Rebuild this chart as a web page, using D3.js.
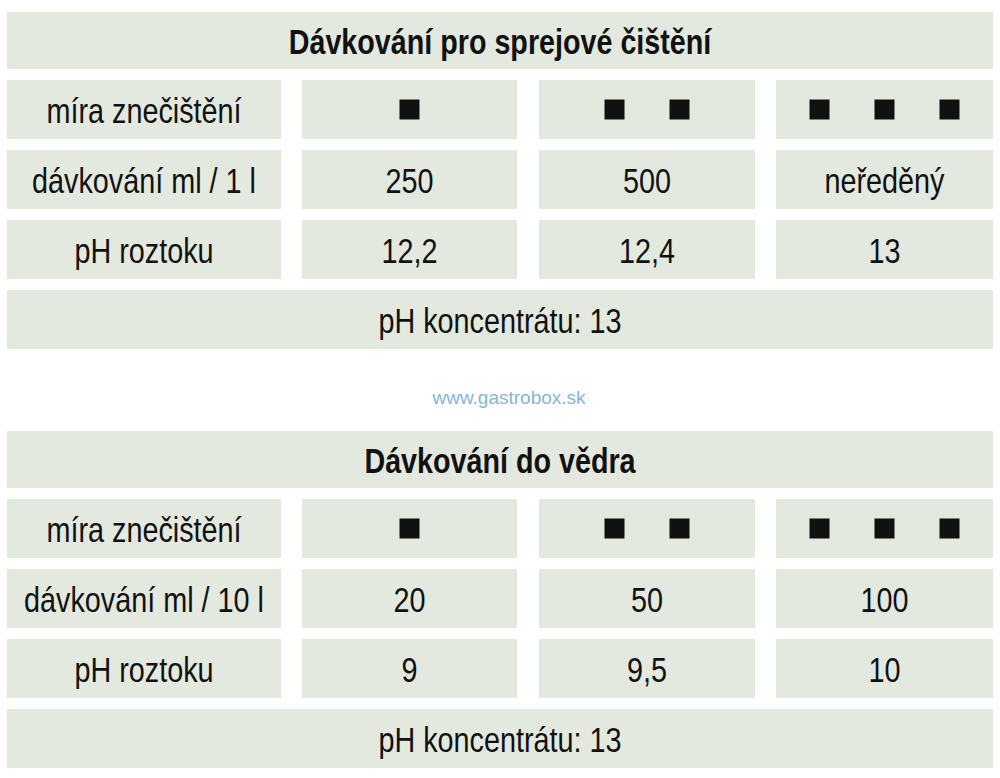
<!DOCTYPE html>
<html><head><meta charset="utf-8">
<script src="https://cdn.jsdelivr.net/npm/d3@7"></script>
<style>body{margin:0;background:#fff}</style>
</head><body>
<svg id="chart" width="1000" height="778"></svg>
<script>
const titles = ["Dávkování pro sprejové čištění", "Dávkování do vědra"];
const rowLabels = [
  ["míra znečištění", "dávkování ml / 1 l", "pH roztoku"],
  ["míra znečištění", "dávkování ml / 10 l", "pH roztoku"]
];
const squares = [1, 2, 3];
const doses = [["250", "500", "neředěný"], ["20", "50", "100"]];
const phValues = [["12,2", "12,4", "13"], ["9", "9,5", "10"]];
const concentrate = ["pH koncentrátu: 13", "pH koncentrátu: 13"];
const watermark = "www.gastrobox.sk";

const svg = d3.select("#chart");
const bg = "#e3e9df";
const font = "'Liberation Sans', Arial, sans-serif";

const colX = [7, 302, 539, 776], colW = [274, 215, 216, 217];
const rowH = 59, pitch = 70;
const tops = [12, 431];

// condensed text: horizontal squeeze around the anchor point
function label(g, x, y, txt, size, bold, sx) {
  g.append("text")
    .attr("transform", `translate(${x},${y}) scale(${sx},1)`)
    .attr("text-anchor", "middle").attr("dominant-baseline", "central")
    .style("font-family", font).style("font-size", size + "px")
    .style("font-weight", bold ? "bold" : "normal")
    .attr("fill", "#111").text(txt);
}

tops.forEach((top, t) => {
  const g = svg.append("g").attr("transform", `translate(0,${top})`);
  g.append("rect").attr("x", 7).attr("y", 0).attr("width", 986).attr("height", 57).attr("fill", bg);
  label(g, 500, 30, titles[t], 35, true, 0.82);

  const rows = [
    [rowLabels[t][0], null, null, null],
    [rowLabels[t][1]].concat(doses[t]),
    [rowLabels[t][2]].concat(phValues[t])
  ];
  rows.forEach((r, i) => {
    const y = 68 + i * pitch;
    r.forEach((v, j) => {
      g.append("rect").attr("x", colX[j]).attr("y", y).attr("width", colW[j]).attr("height", rowH).attr("fill", bg);
      const cx = colX[j] + colW[j] / 2;
      if (v !== null) {
        label(g, cx, y + rowH / 2 + 1, v, 36, false, 0.8);
      } else {
        const n = squares[j - 1];
        const step = 65;
        d3.range(n).forEach(k => {
          const sx = cx + (k - (n - 1) / 2) * step;
          g.append("rect").attr("x", sx - 10).attr("y", y + rowH / 2 - 10).attr("width", 20).attr("height", 20).attr("fill", "#111");
        });
      }
    });
  });
  const cy = 68 + 3 * pitch;
  g.append("rect").attr("x", 7).attr("y", cy).attr("width", 986).attr("height", rowH).attr("fill", bg);
  label(g, 500, cy + rowH / 2 + 1, concentrate[t], 36, false, 0.8);
});

svg.append("text").attr("x", 509).attr("y", 397).attr("text-anchor", "middle").attr("dominant-baseline", "central")
  .style("font-family", font).style("font-size", "19px").attr("fill", "#86b6d6").text(watermark);
</script>
</body></html>
